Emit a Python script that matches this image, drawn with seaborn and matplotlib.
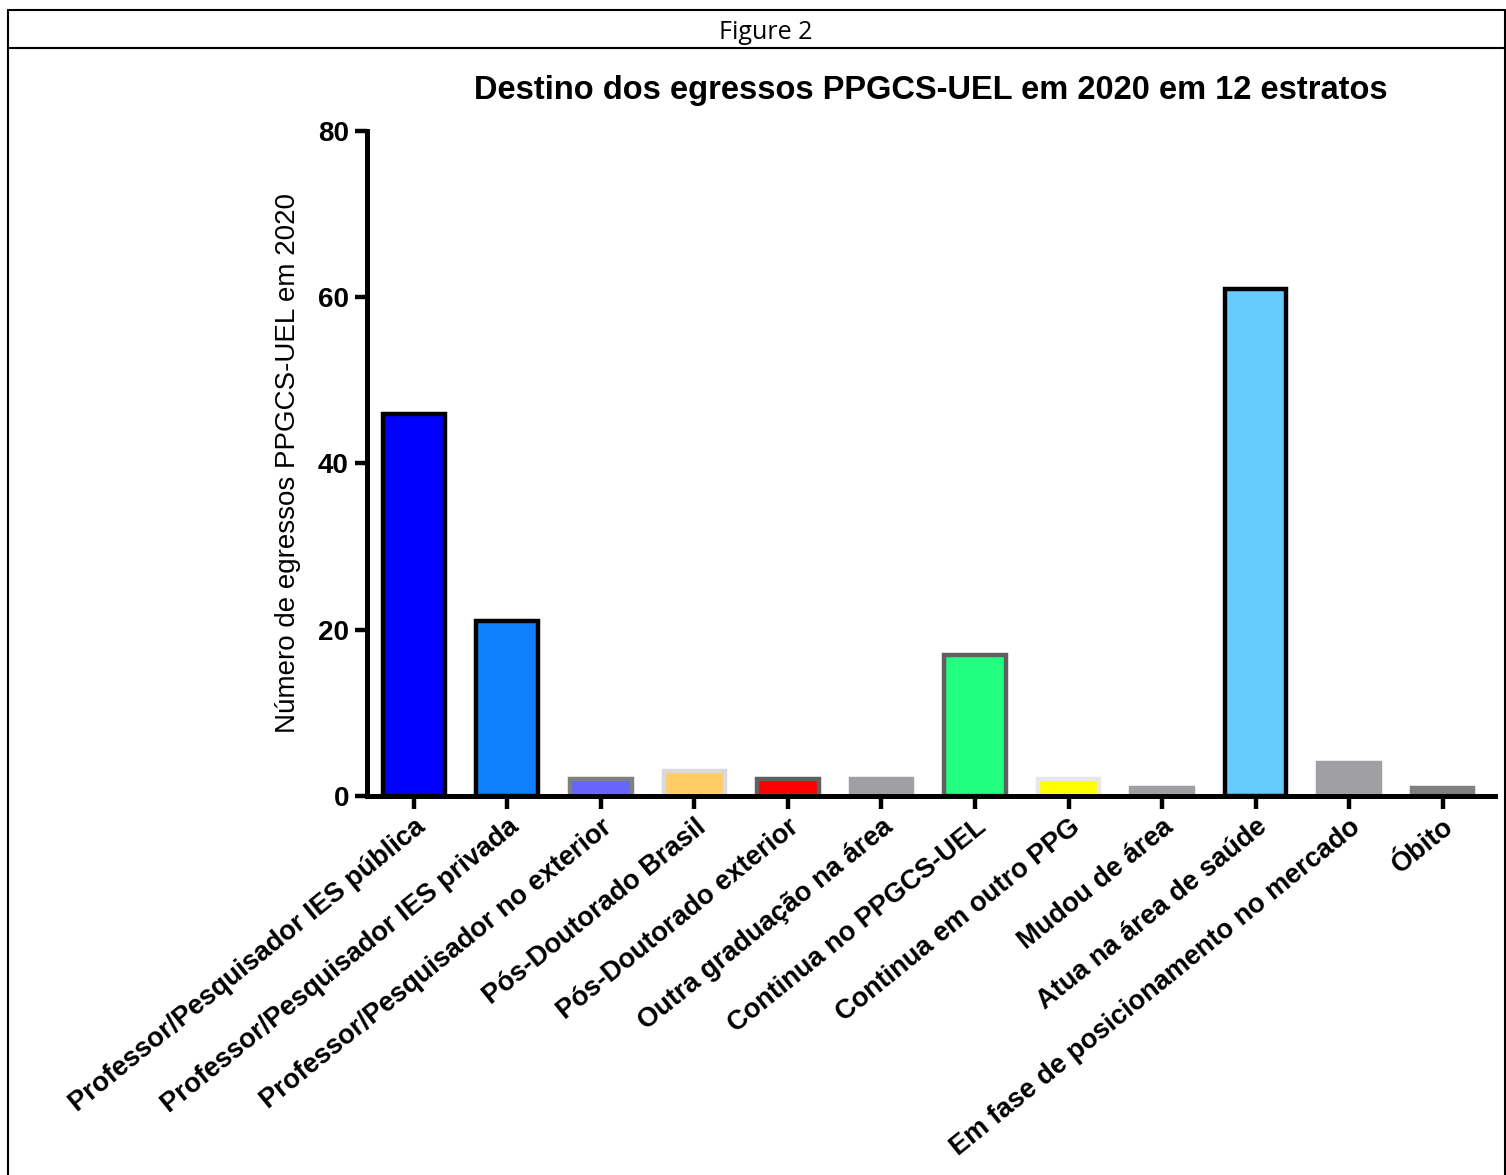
import matplotlib
matplotlib.use("Agg")
import matplotlib.pyplot as plt
import seaborn as sns
from matplotlib.lines import Line2D

sns.set_theme(style="white")
plt.rcParams['font.family'] = ['Liberation Sans', 'DejaVu Sans']
plt.rcParams['text.color'] = 'black'
plt.rcParams['axes.labelcolor'] = 'black'
plt.rcParams['xtick.color'] = 'black'
plt.rcParams['ytick.color'] = 'black'

# Data
categories = [
    "Professor/Pesquisador IES pública",
    "Professor/Pesquisador IES privada",
    "Professor/Pesquisador no exterior",
    "Pós-Doutorado Brasil",
    "Pós-Doutorado exterior",
    "Outra graduação na área",
    "Continua no PPGCS-UEL",
    "Continua em outro PPG",
    "Mudou de área",
    "Atua na área de saúde",
    "Em fase de posicionamento no mercado",
    "Óbito",
]
counts = [46, 21, 2, 3, 2, 2, 17, 2, 1, 61, 4, 1]
fill_colors = ["#0000FF", "#1080FF", "#6666FF", "#FFCC66", "#FF0000", "#A0A0A4",
               "#22FF80", "#FFFF00", "#A0A0A4", "#66CCFF", "#A0A0A4", "#808080"]
edge_colors = ["#000000", "#000000", "#808080", "#D9D9D9", "#606060", "#A0A0A4",
               "#606060", "#E8E8E8", "#A0A0A4", "#000000", "#A0A0A4", "#808080"]
y_ticks = [0, 20, 40, 60, 80]

fig = plt.figure(figsize=(15.06, 11.75), dpi=100)
ax = fig.add_axes([0.2437, 0.3226, 0.7490, 0.5659])

sns.barplot(x=categories, y=counts, hue=categories, palette=fill_colors,
            saturation=1, legend=False, width=0.66, ax=ax)
for patch, ec in zip(ax.patches, edge_colors):
    patch.set_edgecolor(ec)
    patch.set_linewidth(3.2)

ax.set_ylim(0, 80)
ax.set_xlim(-0.5, 11.56)
ax.set_yticks(y_ticks)
ax.set_yticklabels([str(t) for t in y_ticks], fontsize=20, fontweight="bold")
ax.set_xticks(range(len(categories)))
ax.set_xticklabels(categories, rotation=39, ha="right", rotation_mode="anchor",
                   fontsize=19.5, fontweight="bold")
ax.tick_params(axis="both", direction="out", length=9, width=3.2, color="black",
               bottom=True, left=True, pad=4)
sns.despine(ax=ax)
for side in ("left", "bottom"):
    ax.spines[side].set_linewidth(3.6)
    ax.spines[side].set_color("black")

ax.set_ylabel("Número de egressos PPGCS-UEL em 2020", fontsize=20,
              family=['Liberation Sans Narrow', 'Liberation Sans', 'DejaVu Sans'],
              labelpad=12)
ax.set_title("Destino dos egressos PPGCS-UEL em 2020 em 12 estratos",
             fontsize=23.5, fontweight="bold", pad=23, x=0.5)

# outer frame with header
fig.add_artist(Line2D([0.0053, 0.9993], [0.9915, 0.9915], color="black", lw=1.5))
fig.add_artist(Line2D([0.0053, 0.9993], [0.9590, 0.9590], color="black", lw=1.5))
fig.add_artist(Line2D([0.0053, 0.0053], [0.0, 0.9915], color="black", lw=1.5))
fig.add_artist(Line2D([0.9993, 0.9993], [0.0, 0.9915], color="black", lw=1.5))
fig.text(0.5086, 0.9727, "Figure 2", ha="center", va="center", fontsize=18,
         family=['Open Sans', 'DejaVu Sans'])

fig.savefig("out.png", dpi=100)
